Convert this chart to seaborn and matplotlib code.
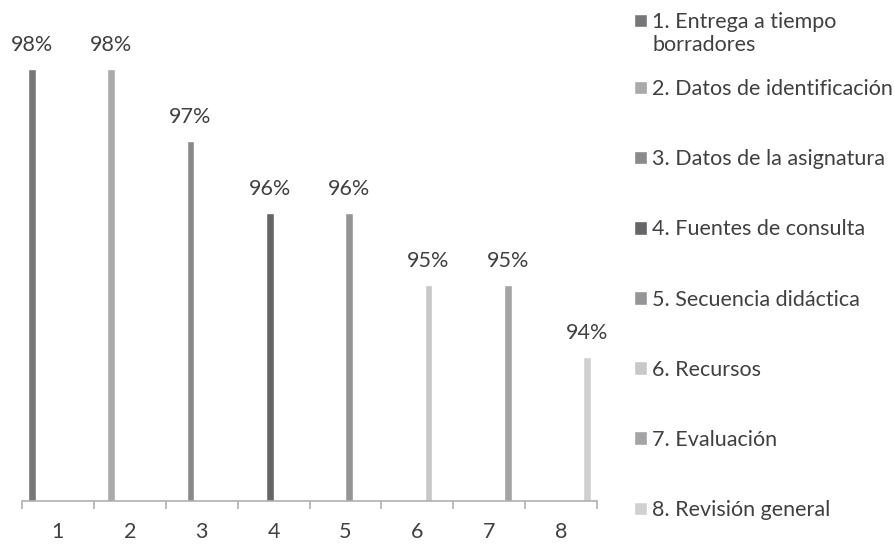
import pandas as pd
import numpy as np
import matplotlib
matplotlib.use("Agg")
import matplotlib.pyplot as plt
from matplotlib.patches import Rectangle
from matplotlib.legend_handler import HandlerPatch
import seaborn as sns

categories = ["1", "2", "3", "4", "5", "6", "7", "8"]
series = ["1. Entrega a tiempo\nborradores", "2. Datos de identificación",
          "3. Datos de la asignatura", "4. Fuentes de consulta",
          "5. Secuencia didáctica", "6. Recursos", "7. Evaluación",
          "8. Revisión general"]
values = [0.98, 0.98, 0.97, 0.96, 0.96, 0.95, 0.95, 0.94]
colors = ["#77777a", "#aaaaad", "#8a8a8d", "#666668",
          "#959598", "#c8c8ca", "#a4a4a7", "#d0d0d2"]

# each series only has a value in its own category (clustered chart)
rows = []
for i, cat in enumerate(categories):
    for j, s in enumerate(series):
        rows.append({"cat": cat, "serie": s, "val": values[j] if i == j else 0.0})
df = pd.DataFrame(rows)

sns.set_style("white")
plt.rcParams["font.family"] = ["Lato", "DejaVu Sans"]
text_color = "#404040"
fs = 15.5

fig = plt.figure(figsize=(8.94, 5.44), dpi=100)
ax = fig.add_axes([22 / 894, 43 / 544, 575 / 894, 468 / 544])

sns.barplot(data=df, x="cat", y="val", hue="serie", hue_order=series,
            order=categories, palette=colors, width=0.83, errorbar=None,
            saturation=1, legend=False, ax=ax)

ax.set_ylim(0.92, 0.985)
ax.set_xlim(-0.5, 7.5)

for cont in ax.containers:
    labels = ["{:.0f}%".format(b.get_height() * 100) if b.get_height() > 0 else ""
              for b in cont]
    ax.bar_label(cont, labels=labels, padding=10, fontsize=fs,
                 color=text_color, clip_on=False)

for s in ["left", "top", "right"]:
    ax.spines[s].set_visible(False)
ax.spines["bottom"].set_color("#b0b0b0")
ax.spines["bottom"].set_linewidth(1.2)
ax.set_yticks([])
ax.set_xlabel("")
ax.set_ylabel("")
ax.set_xticks(np.arange(-0.5, 8, 1), minor=True)
ax.tick_params(axis="x", which="major", length=0, pad=15,
               labelsize=fs, labelcolor=text_color)
ax.tick_params(axis="x", which="minor", bottom=True, length=6, width=1.2,
               color="#b0b0b0", direction="out")

handles = [c.patches[0] for c in ax.containers]
leg_kw = dict(frameon=False, fontsize=fs, handlelength=0.6, handleheight=0.6,
              handletextpad=0.25, borderpad=0, borderaxespad=0,
              labelcolor=text_color, bbox_transform=fig.transFigure)


# marker of the two-line entry sits on the first line
def top_square(legend, orig_handle, xdescent, ydescent, width, height, fontsize):
    return Rectangle((-xdescent, -ydescent + 0.62 * fontsize), width, height)


leg1 = ax.legend(handles[:1], series[:1], loc="center left",
                 bbox_to_anchor=(634 / 894, 1 - 33.5 / 544),
                 handler_map={handles[0]: HandlerPatch(patch_func=top_square)},
                 **leg_kw)
ax.add_artist(leg1)
ax.legend(handles[1:], series[1:], loc="center left",
          bbox_to_anchor=(634 / 894, 1 - 299.5 / 544), labelspacing=2.33,
          **leg_kw)

fig.savefig("out.png", dpi=100)
